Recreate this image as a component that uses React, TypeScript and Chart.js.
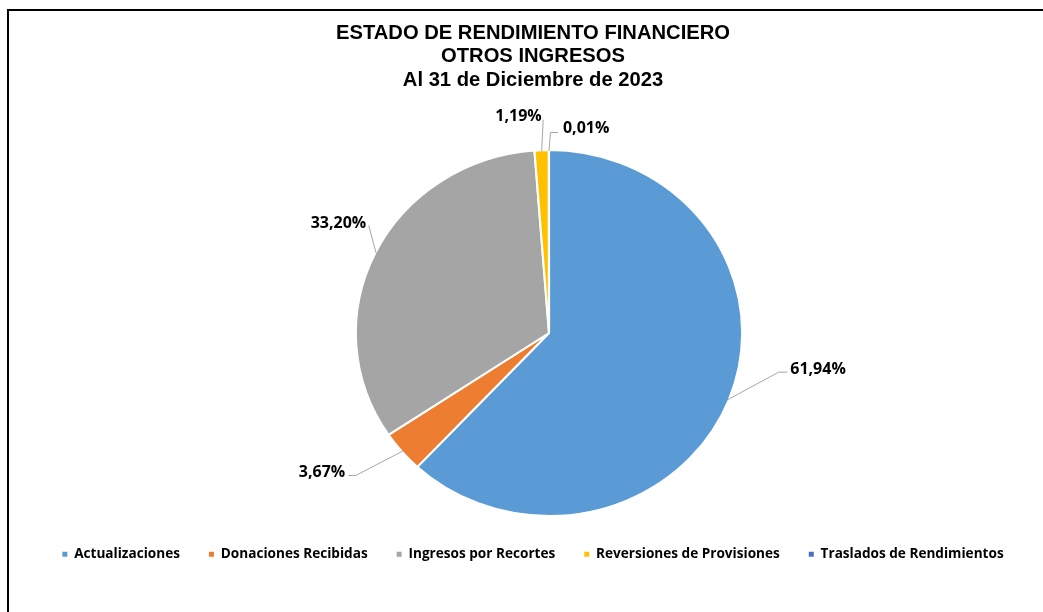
import React, { useEffect, useRef } from "react";
import { Chart, registerables } from "chart.js";

Chart.register(...registerables);

// ---- data ----
const categories = [
  "Actualizaciones",
  "Donaciones Recibidas",
  "Ingresos por Recortes",
  "Reversiones de Provisiones",
  "Traslados de Rendimientos",
];
const shares = [61.94, 3.67, 33.2, 1.19, 0.01];
const sliceColors = ["#5B9BD5", "#ED7D31", "#A5A5A5", "#FFC000", "#4472C4"];
const titleLines = [
  "ESTADO DE RENDIMIENTO FINANCIERO",
  "OTROS INGRESOS",
  "Al 31 de Diciembre de 2023",
];

// ---- styling / layout ----
const CANVAS_W = 1048;
const CANVAS_H = 600;
const PIE_CX = 540; // canvas coords
const PIE_CY = 322;
const PIE_R = 183;
const X_STRETCH = 1.0555;
const LABEL_FONT = "bold 16px 'Open Sans', 'Noto Sans', sans-serif";
// leader-line layout per slice: elbow offset from the slice edge, horizontal arm, text gap, side
const labelLayout = [
  { dx: 51, dy: -27.5, arm: 8.5, gap: 3, side: 1, lift: 4 },
  { dx: -47, dy: 24.5, arm: -7.5, gap: 3, side: -1, lift: 4 },
  { dx: -7.5, dy: -28, arm: 0, gap: 2.5, side: -1, lift: 3.5 },
  { dx: 1.5, dy: -31.5, arm: 0, gap: 1.5, side: -1, lift: 4 },
  { dx: 1.5, dy: -18.5, arm: 7.5, gap: 5, side: 1, lift: 5 },
];

const fmtPct = (v: number) => v.toFixed(2).replace(".", ",") + "%";

const piePlugin = {
  id: "ellipsePie",
  beforeDatasetsDraw(chart: any) {
    const meta = chart.getDatasetMeta(0);
    const arc = meta.data[0];
    const ctx = chart.ctx;
    ctx.save();
    ctx.translate(PIE_CX, PIE_CY);
    ctx.scale(X_STRETCH, 1);
    ctx.translate(-arc.x, -arc.y);
  },
  afterDatasetsDraw(chart: any) {
    const ctx = chart.ctx;
    ctx.restore();
    const meta = chart.getDatasetMeta(0);
    ctx.save();
    ctx.font = LABEL_FONT;
    ctx.fillStyle = "#000";
    ctx.strokeStyle = "#A6A6A6";
    ctx.lineWidth = 1;
    meta.data.forEach((arc: any, i: number) => {
      const p = arc.getProps(["startAngle", "endAngle", "outerRadius"], true);
      const mid = (p.startAngle + p.endAngle) / 2;
      const r = p.outerRadius - 1;
      const ex = PIE_CX + X_STRETCH * r * Math.cos(mid);
      const ey = PIE_CY + r * Math.sin(mid);
      const L = labelLayout[i];
      const bx = ex + L.dx;
      const by = ey + L.dy;
      const hx = bx + L.arm;
      ctx.beginPath();
      ctx.moveTo(ex, ey);
      ctx.lineTo(bx, by);
      if (L.arm !== 0) ctx.lineTo(hx, by);
      ctx.stroke();
      const text = fmtPct(shares[i]);
      ctx.textAlign = L.side > 0 ? "left" : "right";
      ctx.textBaseline = "alphabetic";
      const tx = hx + L.side * L.gap;
      const midY = by - L.lift;
      ctx.fillText(text, tx, midY + 0.357 * 16);
    });
    ctx.restore();
  },
};

export default function App() {
  const ref = useRef<HTMLCanvasElement | null>(null);
  useEffect(() => {
    if (!ref.current) return;
    const chart = new Chart(ref.current, {
      type: "pie",
      data: {
        labels: categories,
        datasets: [
          {
            data: shares,
            backgroundColor: sliceColors,
            borderColor: "#FFFFFF",
            borderWidth: 2,
            radius: PIE_R,
          } as any,
        ],
      },
      options: {
        responsive: false,
        animation: false,
        devicePixelRatio: 1,
        layout: { padding: { top: 0, bottom: 40, left: 0, right: 0 } },
        plugins: {
          tooltip: { enabled: false },
          title: {
            display: true,
            text: titleLines,
            color: "#000",
            font: {
              family: "'Liberation Sans', Arial, sans-serif",
              size: 20.2,
              weight: "bold",
              lineHeight: 1.15,
            },
            padding: { top: 11, bottom: 0 },
          },
          legend: {
            display: true,
            position: "bottom",
            labels: {
              color: "#000",
              boxWidth: 5,
              boxHeight: 5,
              padding: 29,
              font: {
                family: "'Open Sans', 'Noto Sans', sans-serif",
                size: 13.6,
                weight: "bold",
              },
              generateLabels: (chart: any) => {
                const base = (Chart as any).overrides.pie.plugins.legend.labels.generateLabels(chart);
                return base.map((it: any) => ({ ...it, lineWidth: 0, strokeStyle: "rgba(0,0,0,0)" }));
              },
            },
          },
        },
      } as any,
      plugins: [piePlugin],
    });
    return () => chart.destroy();
  }, []);

  return (
    <div
      style={{
        position: "fixed",
        left: 0,
        top: 0,
        width: "100vw",
        height: "100vh",
        overflow: "hidden",
        background: "#fff",
      }}
    >
      <div
        style={{
          position: "absolute",
          left: 7,
          top: 9,
          width: CANVAS_W,
          height: CANVAS_H + 40,
          borderTop: "2px solid #000",
          borderLeft: "2px solid #000",
        }}
      >
        <canvas ref={ref} width={CANVAS_W} height={CANVAS_H} style={{ display: "block" }} />
      </div>
    </div>
  );
}
